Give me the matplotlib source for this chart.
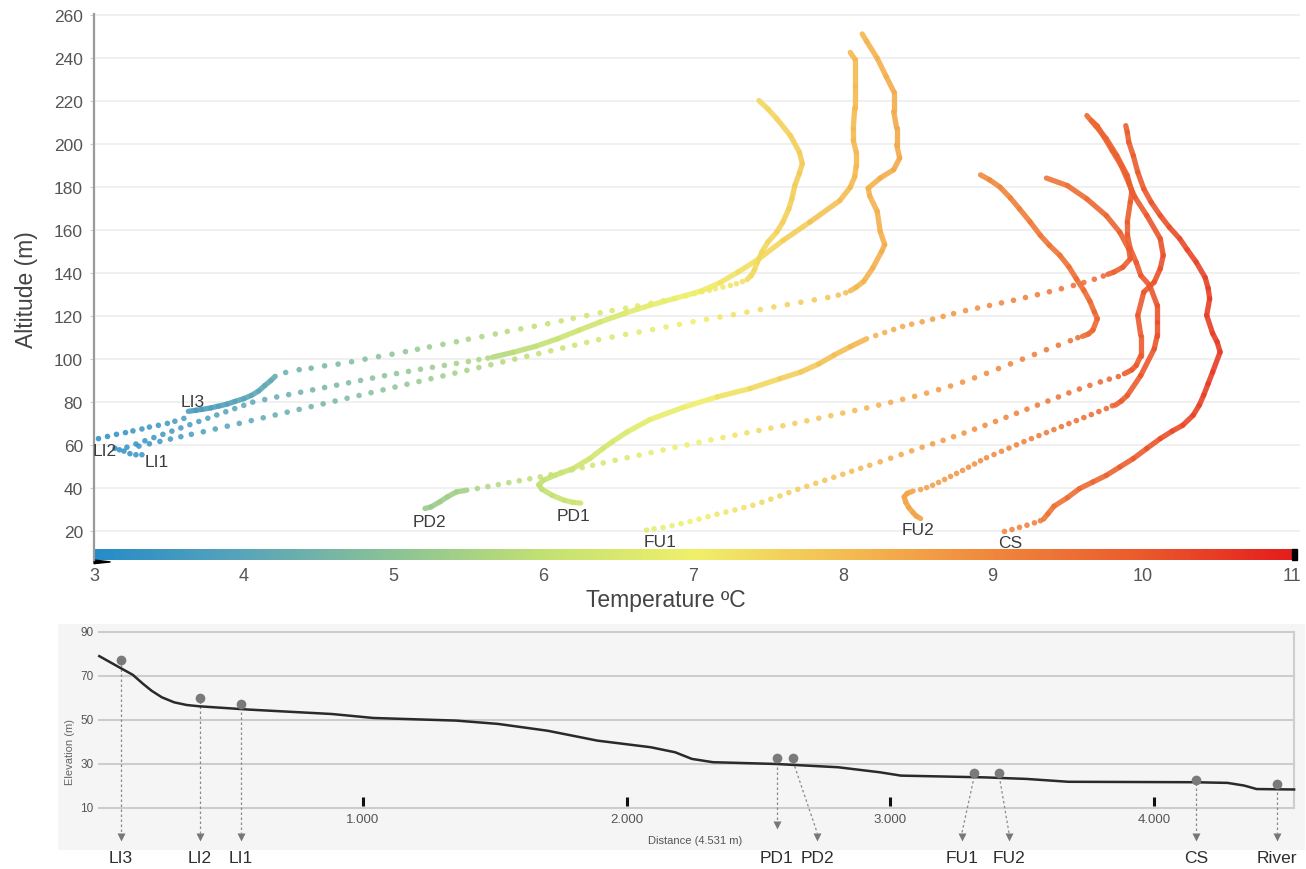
import numpy as np
import matplotlib
matplotlib.use("Agg")
import matplotlib.pyplot as plt
from matplotlib.colors import LinearSegmentedColormap, Normalize
from matplotlib.collections import LineCollection
from matplotlib.patches import Polygon

plt.rcParams["font.family"] = ["Liberation Sans", "DejaVu Sans"]

# ---------------------------------------------------------------- scales
temp_ticks = [3, 4, 5, 6, 7, 8, 9, 10, 11]
alt_ticks = [20, 40, 60, 80, 100, 120, 140, 160, 180, 200, 220, 240, 260]

# ------------------------------------------- vertical profiles (ºC, m)
# "dots": sparse samples, "runs": densely sampled stretches
li3_dots = [(3.03, 63.0), (3.09, 64.0), (3.15, 65.0), (3.21, 65.8), (3.26, 66.6), (3.32, 67.5),
            (3.37, 68.4), (3.43, 69.2), (3.49, 70.1), (3.54, 71.1), (3.60, 72.4),
            (4.28, 93.8), (4.37, 95.1), (4.45, 95.8), (4.54, 96.9), (4.63, 97.7), (4.72, 98.8),
            (4.81, 100.0), (4.90, 101.2), (4.99, 102.3), (5.08, 103.5), (5.16, 104.6), (5.24, 105.7),
            (5.33, 106.9), (5.42, 108.1), (5.50, 109.3), (5.59, 110.5), (5.68, 111.7), (5.76, 112.9),
            (5.85, 114.1), (5.94, 115.3), (6.03, 116.5), (6.12, 117.8), (6.20, 119.0), (6.29, 120.3),
            (6.38, 121.6), (6.46, 122.6), (6.55, 123.7), (6.63, 124.8), (6.72, 126.0), (6.80, 127.2),
            (6.88, 128.3), (6.95, 129.4), (7.01, 130.5), (7.06, 131.4), (7.11, 132.1), (7.15, 132.8),
            (7.20, 133.6), (7.25, 134.3), (7.29, 135.1), (7.33, 136.1)]
li3_runs = [[(3.63, 75.7), (3.68, 76.2), (3.72, 76.6), (3.78, 77.3), (3.83, 78.1), (3.89, 79.1),
             (3.94, 80.3), (4.00, 81.6), (4.05, 83.1), (4.10, 85.2), (4.14, 87.7), (4.18, 90.0),
             (4.21, 92.0)],
            [(7.36, 137.0), (7.39, 139.0), (7.41, 141.5), (7.43, 145.2), (7.46, 149.9), (7.50, 154.5),
             (7.56, 159.2), (7.60, 163.8), (7.64, 170.0), (7.66, 174.6), (7.68, 180.8), (7.71, 186.5),
             (7.73, 191.0), (7.71, 196.4), (7.65, 204.1), (7.56, 211.9), (7.50, 216.5), (7.44, 220.4)]]

li1_dots = [(3.24, 56.0), (3.28, 55.5), (3.32, 55.5),
            (3.22, 59.0), (3.28, 60.5), (3.34, 62.0), (3.40, 63.5), (3.46, 65.0), (3.52, 66.5),
            (3.58, 68.0), (3.64, 69.5), (3.70, 71.0), (3.76, 72.5), (3.82, 74.0), (3.88, 75.5),
            (3.94, 77.0), (4.00, 78.5), (4.06, 80.0), (4.14, 81.2), (4.22, 82.4), (4.30, 83.5),
            (4.38, 84.6), (4.46, 85.7), (4.54, 86.8), (4.62, 87.9), (4.70, 89.0), (4.78, 90.1),
            (4.86, 91.2), (4.94, 92.3), (5.02, 93.3), (5.10, 94.3), (5.18, 95.3), (5.26, 96.2),
            (5.34, 97.1), (5.42, 98.0), (5.50, 98.9), (5.57, 99.8), (5.63, 100.5)]
li1_runs = [[(5.66, 100.9), (5.80, 103.2), (5.95, 106.0), (6.10, 109.6), (6.24, 113.5), (6.38, 117.3),
             (6.55, 121.5), (6.71, 125.0), (6.88, 128.3), (7.05, 131.6), (7.18, 135.6), (7.30, 140.5),
             (7.44, 146.7), (7.60, 155.2), (7.78, 163.8), (7.98, 173.8), (8.05, 180.0), (8.08, 185.0),
             (8.09, 190.0), (8.09, 196.3), (8.07, 202.0), (8.07, 207.1), (8.08, 217.0), (8.08, 227.3),
             (8.08, 239.7), (8.05, 242.8)]]

li2_dots = [(3.14, 58.5), (3.17, 57.8), (3.20, 57.2),
            (3.30, 59.5), (3.37, 60.6), (3.44, 61.7), (3.51, 62.8), (3.58, 63.9), (3.65, 65.0),
            (3.73, 66.2), (3.81, 67.5), (3.89, 68.8), (3.97, 70.1), (4.05, 71.4), (4.13, 72.7),
            (4.21, 74.0), (4.29, 75.3), (4.37, 76.6), (4.45, 77.9), (4.53, 79.2), (4.61, 80.5),
            (4.69, 81.8), (4.77, 83.1), (4.85, 84.4), (4.93, 85.7), (5.01, 87.0), (5.09, 88.3),
            (5.17, 89.6), (5.25, 90.9), (5.33, 92.2), (5.41, 93.5), (5.49, 94.8), (5.57, 96.1),
            (5.65, 97.4), (5.73, 98.7), (5.81, 100.0), (5.89, 101.3), (5.97, 102.6), (6.05, 103.9),
            (6.13, 105.2), (6.21, 106.5), (6.29, 107.8), (6.37, 109.1), (6.46, 110.3), (6.55, 111.5),
            (6.64, 112.6), (6.73, 113.8), (6.82, 115.0), (6.91, 116.2), (7.00, 117.4), (7.09, 118.5),
            (7.18, 119.6), (7.27, 120.7), (7.36, 121.9), (7.45, 123.1), (7.54, 124.3), (7.63, 125.4),
            (7.72, 126.5), (7.81, 127.6), (7.90, 128.7), (7.97, 129.8), (8.02, 130.9)]
li2_runs = [[(8.05, 131.8), (8.09, 133.5), (8.14, 136.2), (8.20, 142.4), (8.26, 150.2), (8.28, 153.3),
             (8.25, 159.5), (8.23, 168.8), (8.18, 176.0), (8.17, 179.6), (8.25, 184.3), (8.34, 188.2),
             (8.38, 193.6), (8.36, 199.8), (8.36, 207.6), (8.34, 215.3), (8.34, 224.6), (8.29, 231.6),
             (8.23, 240.1), (8.16, 247.9), (8.13, 251.4)]]

pd2_dots = [(5.56, 39.8), (5.63, 40.7), (5.70, 41.6), (5.77, 42.5), (5.84, 43.4), (5.91, 44.3),
            (5.98, 45.2), (6.05, 46.2), (6.12, 47.3), (6.19, 48.4), (6.26, 49.5), (6.33, 50.6),
            (6.40, 51.7), (6.48, 52.9), (6.56, 54.1), (6.64, 55.3), (6.72, 56.5), (6.80, 57.7),
            (6.88, 58.9), (6.96, 60.1), (7.04, 61.3), (7.12, 62.4), (7.20, 63.5), (7.28, 64.6),
            (7.36, 65.7), (7.44, 66.8), (7.52, 67.9), (7.60, 69.0), (7.68, 70.1), (7.76, 71.3),
            (7.84, 72.5), (7.92, 73.7), (8.00, 74.9), (8.08, 76.1), (8.16, 77.3), (8.24, 78.6),
            (8.32, 79.9), (8.40, 81.3), (8.48, 82.7), (8.56, 84.2), (8.64, 85.8), (8.72, 87.5),
            (8.80, 89.3), (8.88, 91.3), (8.96, 93.4), (9.04, 95.6), (9.12, 97.8), (9.20, 100.0),
            (9.28, 102.2), (9.36, 104.4), (9.44, 106.5), (9.52, 108.6), (9.57, 110.0)]
pd2_runs = [[(5.21, 30.5), (5.25, 31.2), (5.31, 33.6), (5.36, 35.9), (5.42, 38.2), (5.49, 39.0)],
            [(9.60, 110.6), (9.64, 111.7), (9.67, 113.5), (9.70, 118.8), (9.68, 122.0), (9.65, 127.0),
             (9.61, 132.0), (9.56, 137.4), (9.51, 143.0), (9.45, 148.3), (9.38, 153.0), (9.32, 157.6),
             (9.25, 164.0), (9.18, 170.0), (9.12, 175.0), (9.05, 180.1), (8.98, 183.5), (8.92, 185.8)]]

pd1_dots = [(8.22, 111.0), (8.28, 112.4), (8.34, 113.8), (8.40, 115.2), (8.46, 116.3), (8.53, 117.4),
            (8.60, 118.6), (8.67, 119.9), (8.74, 121.2), (8.82, 122.6), (8.90, 123.8), (8.98, 125.0),
            (9.06, 126.2), (9.14, 127.4), (9.22, 128.7), (9.30, 130.0), (9.38, 131.4), (9.46, 132.8),
            (9.54, 134.3), (9.61, 135.7), (9.68, 137.2), (9.74, 138.7)]
pd1_runs = [[(6.25, 33.0), (6.20, 33.3), (6.14, 34.3), (6.06, 36.6), (5.99, 39.5), (5.97, 41.5),
             (6.00, 43.6), (6.08, 46.0), (6.20, 49.1), (6.31, 53.7), (6.40, 58.5), (6.46, 61.5),
             (6.56, 66.1), (6.71, 71.8), (6.94, 77.7), (7.16, 82.4), (7.38, 86.3), (7.58, 90.9),
             (7.72, 94.0), (7.84, 97.8), (7.94, 101.8), (8.05, 105.8), (8.16, 109.5)],
            [(9.77, 139.5), (9.81, 140.5), (9.87, 142.8), (9.92, 146.7), (9.91, 151.3), (9.85, 159.1),
             (9.76, 166.8), (9.63, 174.6), (9.50, 180.8), (9.36, 184.3)]]

fu1_dots = [(6.69, 20.4), (6.74, 21.0), (6.80, 21.6), (6.86, 22.5), (6.92, 23.4), (6.98, 24.4),
            (7.04, 25.5), (7.10, 26.7), (7.16, 27.8), (7.22, 28.8), (7.28, 29.8), (7.34, 30.9),
            (7.40, 32.0), (7.46, 33.4), (7.52, 34.8), (7.58, 36.3), (7.64, 37.9), (7.70, 39.4),
            (7.76, 40.8), (7.82, 42.2), (7.88, 43.6), (7.94, 45.0), (8.00, 46.4), (8.06, 47.8),
            (8.12, 49.2), (8.18, 50.6), (8.25, 52.2), (8.32, 53.9), (8.39, 55.6), (8.46, 57.3),
            (8.53, 59.0), (8.60, 60.6), (8.67, 62.2), (8.74, 63.9), (8.81, 65.6), (8.88, 67.4),
            (8.95, 69.2), (9.02, 71.0), (9.09, 72.9), (9.16, 74.8), (9.23, 76.7), (9.30, 78.6),
            (9.37, 80.5), (9.44, 82.4), (9.51, 84.3), (9.58, 86.1), (9.65, 87.8), (9.72, 89.4),
            (9.78, 90.7), (9.84, 91.9)]
fu1_runs = [[(9.88, 93.2), (9.93, 95.0), (9.96, 97.1), (9.99, 101.7), (9.99, 111.0), (9.97, 120.4),
             (10.01, 131.2), (10.08, 135.9), (10.12, 142.1), (10.14, 148.3), (10.12, 156.1),
             (10.03, 166.9), (9.95, 175.5), (9.91, 182.0), (9.86, 190.0), (9.80, 197.0),
             (9.74, 204.0), (9.70, 208.5), (9.66, 211.1)]]

fu2_dots = [(8.52, 39.3), (8.56, 40.2), (8.60, 41.3), (8.64, 42.6), (8.68, 44.0), (8.72, 45.4),
            (8.76, 46.8), (8.80, 48.2), (8.84, 49.7), (8.88, 51.2), (8.92, 52.7), (8.96, 54.1),
            (9.01, 55.6), (9.06, 57.1), (9.11, 58.6), (9.16, 60.1), (9.21, 61.6), (9.26, 63.0),
            (9.31, 64.4), (9.36, 65.8), (9.41, 67.2), (9.46, 68.6), (9.51, 70.0), (9.56, 71.4),
            (9.61, 72.8), (9.66, 74.2), (9.71, 75.6), (9.76, 77.0), (9.80, 78.3)]
fu2_runs = [[(8.52, 25.8), (8.49, 27.0), (8.47, 28.5), (8.44, 31.0), (8.42, 33.5), (8.41, 35.9),
             (8.43, 37.5), (8.47, 38.6)],
            [(9.82, 78.6), (9.86, 80.5), (9.90, 83.1), (9.99, 92.4), (10.08, 104.8), (10.10, 111.0),
             (10.10, 117.3), (10.10, 125.0), (10.05, 134.3), (9.99, 139.0), (9.96, 145.0),
             (9.92, 151.4), (9.90, 158.0), (9.90, 163.8), (9.92, 173.1), (9.93, 177.8),
             (9.90, 185.5), (9.83, 194.8), (9.76, 202.6), (9.69, 208.5), (9.63, 213.4)]]

cs_dots = [(9.08, 19.8), (9.13, 20.7), (9.18, 21.7), (9.23, 22.7), (9.28, 23.8), (9.32, 24.8)]
cs_runs = [[(9.34, 25.5), (9.37, 28.0), (9.41, 31.5), (9.50, 35.5), (9.58, 39.7), (9.67, 42.8),
            (9.76, 45.9), (9.85, 49.8), (9.94, 53.7), (10.03, 58.4), (10.12, 63.0), (10.20, 66.5),
            (10.27, 69.2), (10.34, 73.9), (10.38, 78.5), (10.41, 83.2), (10.44, 88.6),
            (10.47, 94.0), (10.52, 103.3), (10.50, 108.0), (10.47, 112.0), (10.43, 120.4),
            (10.45, 128.1), (10.44, 133.0), (10.42, 138.0), (10.36, 145.2), (10.30, 151.0),
            (10.25, 156.1), (10.18, 161.5), (10.12, 166.9), (10.06, 173.0), (10.01, 179.3),
            (9.97, 187.0), (9.94, 194.8), (9.91, 201.0), (9.90, 205.6), (9.89, 208.7)]]

# station tags written next to each profile's ground point
tag_names = ["LI3", "LI2", "LI1", "PD2", "PD1", "FU1", "FU2", "CS"]
tag_temp = [3.66, 3.07, 3.42, 5.24, 6.20, 6.78, 8.50, 9.12]
tag_alt = [80.5, 57.5, 52.5, 24.3, 27.0, 15.0, 20.6, 14.6]

# --------------------------------------------- longitudinal elevation profile
prof_dist = [0, 64, 127, 166, 198, 237, 284, 331, 379, 568, 882, 1039, 1354, 1512, 1700, 1889,
             2091, 2184, 2247, 2327, 2564, 2802, 2961, 3040, 3358, 3516, 3675, 4151, 4278, 4341,
             4389, 4531]
prof_elev = [79.0, 74.7, 70.5, 66.4, 63.3, 60.3, 58.0, 56.8, 56.2, 54.7, 52.7, 50.9, 49.7, 48.2,
             45.1, 40.6, 37.6, 35.3, 32.3, 30.8, 30.0, 28.5, 26.2, 24.7, 23.9, 23.2, 21.9, 21.7,
             21.4, 20.2, 18.6, 18.4]
stations = ["LI3", "LI2", "LI1", "PD1", "PD2", "FU1", "FU2", "CS", "River"]
station_dist = [83, 382, 536, 2569, 2631, 3318, 3413, 4159, 4465]
station_elev = [77.1, 59.9, 57.3, 32.6, 32.6, 25.9, 25.9, 22.9, 20.9]
elev_ticks = [10, 30, 50, 70, 90]
dist_ticks = [1000, 2000, 3000, 4000]
dist_labels = ["1.000", "2.000", "3.000", "4.000"]

# ---------------------------------------------------------------- drawing
W, H = 1306, 870
fig = plt.figure(figsize=(W / 100, H / 100), dpi=100)

cmap = LinearSegmentedColormap.from_list(
    "temp",
    [(0.0, "#268cc8"), (0.125, "#5aa5b9"), (0.25, "#8cc396"), (0.375, "#c3e173"),
     (0.5, "#f0f06a"), (0.625, "#f5bd52"), (0.75, "#f0873c"), (0.875, "#eb5a2d"),
     (1.0, "#e41e1e")])
norm = Normalize(3, 11)

ax = fig.add_axes([94 / W, (H - 561) / H, (1299.5 - 94) / W, (561 - 15.4) / H])
ax.set_xlim(3, 11.05)
ax.set_ylim(6.5, 260.5)
for side in ("top", "right", "bottom"):
    ax.spines[side].set_visible(False)
ax.spines["left"].set_color("#9a9a9a")
ax.spines["left"].set_linewidth(1.6)
ax.set_yticks(alt_ticks)
ax.set_xticks(temp_ticks)
ax.set_xticklabels([str(t) for t in temp_ticks])
ax.tick_params(axis="y", length=3, color="#cfcfcf", labelsize=12.5, labelcolor="#555555", pad=5)
ax.tick_params(axis="x", length=0, labelsize=13, labelcolor="#555555", pad=5)
for a in alt_ticks:
    ax.axhline(a, color="#efefef", lw=1.3, zorder=0)

# temperature colour bar along the bottom of the plot
ax.imshow(np.linspace(3, 11, 600)[None, :], extent=(3, 11, 6.5, 11.4), aspect="auto",
          cmap=cmap, norm=norm, zorder=1, interpolation="bilinear")
ax.add_patch(Polygon([(11.0, 6.5), (11.035, 6.5), (11.035, 11.4), (11.0, 11.4)],
                     closed=True, color="black", zorder=2, clip_on=False))
ax.add_patch(Polygon([(3.0, 6.5), (3.11, 5.6), (3.0, 4.8)], closed=True, color="black",
                     zorder=2, clip_on=False))

profiles = [(li3_dots, li3_runs), (li1_dots, li1_runs), (li2_dots, li2_runs),
            (pd2_dots, pd2_runs), (pd1_dots, pd1_runs), (fu1_dots, fu1_runs),
            (fu2_dots, fu2_runs), (cs_dots, cs_runs)]
for dots, runs in profiles:
    for run in runs:
        pts = np.array(run)
        segs = np.stack([pts[:-1], pts[1:]], axis=1)
        mid = 0.5 * (pts[:-1, 0] + pts[1:, 0])
        lc = LineCollection(segs, colors=cmap(norm(mid)), linewidths=3.8, alpha=0.9,
                            capstyle="round", joinstyle="round", zorder=3)
        ax.add_collection(lc)
    d = np.array(dots)
    ax.scatter(d[:, 0], d[:, 1], c=d[:, 0], cmap=cmap, norm=norm, s=16, linewidths=0,
               alpha=0.85, zorder=3)

for name, t, a in zip(tag_names, tag_temp, tag_alt):
    ax.text(t, a, name, ha="center", va="center", fontsize=12.5, color="#3c3c3c",
            family=["Liberation Sans Narrow", "Liberation Sans"], zorder=4)

fig.text(666 / W, 1 - 600 / H, "Temperature ºC", ha="center", va="center", fontsize=16.5,
         color="#444444")
fig.text(26 / W, 1 - 290 / H, "Altitude (m)", ha="center", va="center", rotation=90,
         fontsize=16.5, color="#444444")

# ---------------------------------------------------------- elevation panel
axb = fig.add_axes([58 / W, (H - 851) / H, (1305 - 58) / W, (851 - 625) / H])
axb.set_facecolor("#f5f5f5")
x0 = -(99.3 - 58) / 263.7 * 1000
x1 = 4531 + (1305 - 1294.1) / 263.7 * 1000
axb.set_xlim(x0, x1)
axb.set_ylim(-9.1, 93.6)
for s in axb.spines.values():
    s.set_visible(False)
axb.set_xticks([])
axb.set_yticks([])

for e in elev_ticks:
    axb.plot([0, 4531], [e, e], color="#cdcdcd", lw=1.5, zorder=1)
    axb.text(-22, e, str(e), ha="right", va="center", fontsize=8.5, color="#555555")
axb.plot([4531, 4531], [10, 90], color="#cdcdcd", lw=1.5, zorder=1)
axb.plot(prof_dist, prof_elev, color="#2a2a2a", lw=1.8, zorder=3)

for d, lab in zip(dist_ticks, dist_labels):
    axb.plot([d, d], [10.8, 15.2], color="#111111", lw=2.2, solid_capstyle="butt", zorder=3)
    axb.text(d, 5.0, lab, ha="center", va="center", fontsize=9.5, color="#555555",
             family=["Liberation Sans Narrow", "Liberation Sans"])
axb.text(2260, -4.6, "Distance (4.531 m)", ha="center", va="center", fontsize=8,
         color="#555555", family=["Liberation Sans Narrow", "Liberation Sans"])
axb.text(-110, 36, "Elevation (m)", ha="center", va="center", rotation=90, fontsize=8,
         color="#666666", family=["Liberation Sans Narrow", "Liberation Sans"])

# arrow tips and label positions below the profile
tip_dist = [83, 382, 536, 2569, 2723, 3271, 3450, 4159, 4465]
tip_elev = [-3.0, -3.0, -3.0, 2.4, -3.0, -3.0, -3.0, -3.0, -3.0]
for name, d, e, td, te in zip(stations, station_dist, station_elev, tip_dist, tip_elev):
    axb.plot([d, td], [e - 1.5, te + 1.5], color="#8a8a8a", lw=0.9, ls=(0, (2, 2)), zorder=2)
    axb.plot([td], [te], marker="v", ms=6, color="#777777", mec="none", zorder=4, clip_on=False)
    axb.plot([d], [e], marker="o", ms=7, color="#7a7a7a", mec="none", zorder=4)
    axb.text(td, -12.3, name, ha="center", va="center", fontsize=12.5, color="#2e2e2e",
             family=["Liberation Sans Narrow", "Liberation Sans"], clip_on=False)

fig.savefig("out.png", dpi=100)
